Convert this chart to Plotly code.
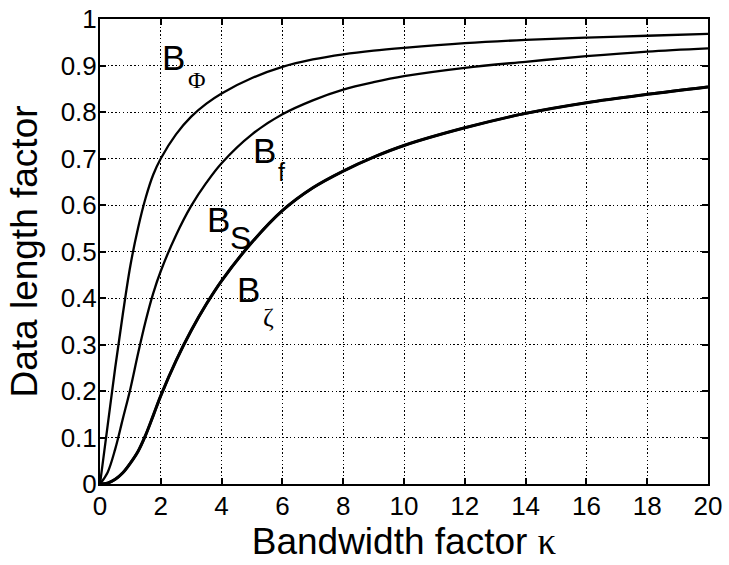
import plotly.graph_objects as go

# Bandwidth factor kappa (sample points)
kappa = [0, 0.25, 0.5, 0.75, 1, 1.25, 1.5, 1.75, 2, 2.5, 3, 3.5, 4, 5, 6, 7, 8, 9, 10, 12, 14, 16, 18, 20]

# Data length factor curves
b_phi  = [0, 0.125, 0.25, 0.365, 0.47, 0.55, 0.615, 0.665, 0.70, 0.752, 0.79, 0.818, 0.84, 0.873, 0.897, 0.913, 0.924, 0.932, 0.938, 0.948, 0.955, 0.96, 0.964, 0.968]
b_f    = [0, 0.025, 0.075, 0.14, 0.205, 0.28, 0.35, 0.41, 0.458, 0.535, 0.598, 0.648, 0.69, 0.752, 0.795, 0.825, 0.848, 0.864, 0.877, 0.895, 0.908, 0.92, 0.93, 0.937]
b_zeta = [0, 0.002, 0.01, 0.024, 0.045, 0.07, 0.105, 0.147, 0.19, 0.265, 0.33, 0.387, 0.437, 0.52, 0.588, 0.637, 0.673, 0.703, 0.728, 0.766, 0.797, 0.82, 0.838, 0.854]
b_s    = b_zeta  # B_S practically coincides with B_zeta

x_ticks = list(range(0, 21, 2))
y_ticks = [round(0.1 * i, 1) for i in range(11)]

fig = go.Figure()
line_kw = dict(shape="spline", smoothing=1.0)
fig.add_trace(go.Scatter(x=kappa, y=b_phi, mode="lines", name="BΦ",
                         line=dict(color="black", width=2.3, **line_kw)))
fig.add_trace(go.Scatter(x=kappa, y=b_f, mode="lines", name="Bf",
                         line=dict(color="black", width=2.3, **line_kw)))
fig.add_trace(go.Scatter(x=kappa, y=b_s, mode="lines", name="BS",
                         line=dict(color="black", width=3, **line_kw)))
fig.add_trace(go.Scatter(x=kappa, y=b_zeta, mode="lines", name="Bζ",
                         line=dict(color="black", width=2.6, **line_kw)))

sans = "Liberation Sans, Arial, sans-serif"
serif = "Liberation Serif, Times New Roman, serif"
labels = [
    ("B", 2.41, 0.917, sans, 35),
    ("Φ", 3.20, 0.869, serif, 24),
    ("B", 5.40, 0.717, sans, 35),
    ("f", 5.96, 0.670, sans, 25),
    ("B", 3.91, 0.569, sans, 35),
    ("S", 4.63, 0.528, sans, 32),
    ("B", 4.89, 0.418, sans, 35),
    ("ζ", 5.53, 0.359, serif, 26),
]
for txt, ax_, ay_, fam, sz in labels:
    fig.add_annotation(x=ax_, y=ay_, xref="x", yref="y", text=txt, showarrow=False,
                       xanchor="center", yanchor="middle",
                       font=dict(family=fam, size=sz, color="black"))

axis_common = dict(
    showline=True, linecolor="black", linewidth=2, mirror="allticks",
    ticks="inside", ticklen=6, tickwidth=1.5, tickcolor="black",
    showgrid=True, gridcolor="black", gridwidth=1, griddash="1.3px,2.5px",
    zeroline=False, automargin=False,
    tickfont=dict(family=sans, size=26, color="black"),
)

fig.update_layout(
    width=729, height=565,
    margin=dict(l=100, r=21, t=19, b=81),
    paper_bgcolor="white", plot_bgcolor="white",
    showlegend=False,
    xaxis=dict(range=[0, 20], tickvals=x_ticks, ticktext=[str(v) for v in x_ticks],
               ticklabelstandoff=-2,
               title=dict(text="Bandwidth factor <span style='font-family:Liberation Serif'>κ</span>",
                          font=dict(family=sans, size=37, color="black"), standoff=0),
               **axis_common),
    yaxis=dict(range=[0, 1], tickvals=y_ticks, ticktext=[("%g" % v) for v in y_ticks],
               ticklabelstandoff=-4,
               title=dict(text="Data length factor",
                          font=dict(family=sans, size=37, color="black"), standoff=12),
               **axis_common),
)

fig.write_html("out.html", config={"displayModeBar": False},
               post_script="document.body.style.margin='0';document.body.style.overflow='hidden';")
